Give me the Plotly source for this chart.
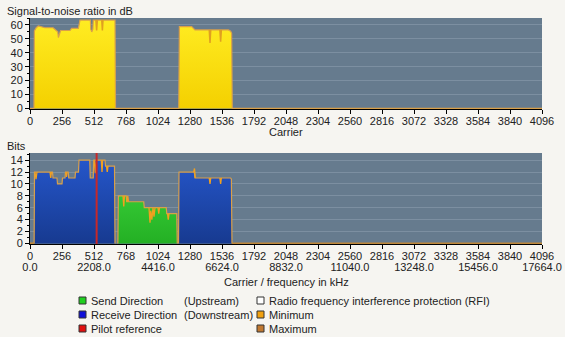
import plotly.graph_objects as go

# ---------------- data ----------------
# Signal-to-noise ratio (dB) per carrier (maximum envelope)
snr_carriers = [0, 32, 35, 50, 67, 100, 120, 185, 205, 222, 227, 235, 245, 320, 333, 387, 400,
                483, 486, 494, 503, 506, 680, 684,
                1190, 1195, 1293, 1320, 1587, 1605, 1613, 1618, 4096]
snr_max = [0, 0, 55.7, 58, 59.3, 58.6, 58, 58, 56.4, 55, 51, 54, 56, 56, 57.5, 57.5, 63.5,
           63.5, 57, 55, 57, 63.5, 63.5, 0,
           0, 58.8, 58.8, 56.4, 56.4, 55.5, 54, 0, 0]
# Minimum spikes (carrier, value) separated by gaps
snr_min_carriers = [527, 533, 539, None, 574, 579, 584, None, 1434, 1440, 1446, None, 1519, 1525, 1531]
snr_min = [63.5, 56, 63.5, None, 63.5, 56, 63.5, None, 56.4, 47, 56.4, None, 56.4, 48, 56.4]

# Bits per carrier - downstream block 1
ds1_carriers = [33, 36, 180, 184, 216, 220, 256, 260, 280, 284, 306, 310, 360, 364, 388, 392,
                478, 482, 506, 510, 600, 604, 676, 680]
ds1_bits = [0, 12, 12, 11, 11, 10, 10, 11, 11, 12, 12, 11, 11, 12, 12, 14,
            14, 11, 11, 14, 14, 13, 13, 0]
# Upstream block
us_carriers = [703, 707, 770, 774, 910, 914, 1090, 1094, 1174, 1178]
us_bits = [0, 8, 8, 7, 7, 6, 6, 5, 5, 0]
# Downstream block 2
ds2_carriers = [1188, 1192, 1314, 1320, 1605, 1611, 1616]
ds2_bits = [0, 12, 12, 11, 11, 10.8, 0]
# Idle carriers
idle_carriers = [0, 33, None, 1616, 4096]
idle_bits = [0, 0, None, 0, 0]
# Minimum / maximum spikes
bits_min_carriers = [40, 48, 56, None, 160, 166, 172, None, 286, 292, 298, None,
                     514, 522, 530, None, 570, 576, 582, None, 612, 618, 624, None,
                     744, 750, 756, None, 776, 782, 788, None, 952, 960, 966, 975, 984, 992, 1000, None,
                     1024, 1030, 1036, None, 1100, 1106, 1112, None,
                     1310, 1316, 1322, None, 1434, 1440, 1446, None, 1519, 1525, 1531]
bits_min = [12, 10.8, 12, None, 12, 11, 12, None, 12, 11.2, 12, None,
            14, 11.8, 14, None, 14, 12, 14, None, 13, 12, 13, None,
            8, 6.2, 8, None, 7, 8, 7, None, 6, 3.5, 5.5, 4, 6, 4.5, 6, None,
            6, 5, 6, None, 5, 4, 5, None,
            12, 12.6, 11, None, 11, 10, 11, None, 11, 10, 11]
pilot_carrier = [533]

carrier_ticks = list(range(0, 4097, 256))
freq_per_carrier = 4.3125  # kHz
freq_ticks = [c * freq_per_carrier for c in range(0, 4097, 512)]

legend_rows = [
    ("Send Direction", "(Upstream)", "#20D020"),
    ("Receive Direction", "(Downstream)", "#1010D8"),
    ("Pilot reference", "", "#E01010"),
]
legend_rows2 = [
    ("Radio frequency interference protection (RFI)", "#FFFFFF"),
    ("Minimum", "#F0A010"),
    ("Maximum", "#C07830"),
]

# ---------------- figure ----------------
W, H = 565, 337
PAGE = "#F6F5F1"
PLOT = "#667B8E"
GRID = "#7C8FA1"
EDGE = "#D9A04A"
MINC = "#F0A020"
FONT = "Liberation Sans"
TXT = "#222222"

def px(x):
    return x / W

def py(y):
    return 1 - y / H

fig = go.Figure()

# SNR area
fig.add_trace(go.Scatter(
    x=snr_carriers, y=snr_max, mode="lines", fill="tozeroy",
    line=dict(color=EDGE, width=1.2),
    fillgradient=dict(type="vertical", colorscale=[[0, "#F4D000"], [1, "#FFEC22"]], start=0, stop=63.5),
    xaxis="x", yaxis="y", hoverinfo="skip", showlegend=False))
fig.add_trace(go.Scatter(
    x=snr_min_carriers, y=snr_min, mode="lines", line=dict(color="#E0A020", width=1.5),
    xaxis="x", yaxis="y", hoverinfo="skip", showlegend=False))

# Bits areas
blue_grad = dict(type="vertical", colorscale=[[0, "#173A90"], [1, "#2556CA"]], start=0, stop=14)
green_grad = dict(type="vertical", colorscale=[[0, "#24B024"], [1, "#34C834"]], start=0, stop=8)
fig.add_trace(go.Scatter(x=ds1_carriers, y=ds1_bits, mode="lines", fill="tozeroy",
                         line=dict(color=EDGE, width=1.2), fillgradient=blue_grad,
                         xaxis="x2", yaxis="y2", hoverinfo="skip", showlegend=False))
fig.add_trace(go.Scatter(x=us_carriers, y=us_bits, mode="lines", fill="tozeroy",
                         line=dict(color=EDGE, width=1.2), fillgradient=green_grad,
                         xaxis="x2", yaxis="y2", hoverinfo="skip", showlegend=False))
fig.add_trace(go.Scatter(x=ds2_carriers, y=ds2_bits, mode="lines", fill="tozeroy",
                         line=dict(color=EDGE, width=1.2), fillgradient=blue_grad,
                         xaxis="x2", yaxis="y2", hoverinfo="skip", showlegend=False))
fig.add_trace(go.Scatter(x=idle_carriers, y=idle_bits, mode="lines",
                         line=dict(color="#C08838", width=2),
                         xaxis="x2", yaxis="y2", hoverinfo="skip", showlegend=False))
fig.add_trace(go.Scatter(x=bits_min_carriers, y=bits_min, mode="lines",
                         line=dict(color=MINC, width=1.3),
                         xaxis="x2", yaxis="y2", hoverinfo="skip", showlegend=False))
# frequency axis helper trace
fig.add_trace(go.Scatter(x=[freq_ticks[0], freq_ticks[-1]], y=[None, None], mode="lines",
                         xaxis="x3", yaxis="y2", hoverinfo="skip", showlegend=False))

# pilot line
for pc in pilot_carrier:
    fig.add_shape(type="line", xref="x2", yref="y2 domain", x0=pc, x1=pc, y0=0, y1=1,
                  line=dict(color="#C82828", width=2))

axis_common = dict(showline=True, linecolor="#000000", linewidth=1, ticks="outside",
                   ticklen=4, tickcolor="#000000", tickfont=dict(family=FONT, size=11, color=TXT),
                   zeroline=False, automargin=False, mirror=False)
xdom = [px(30), px(542)]

fig.update_layout(
    width=W, height=H, margin=dict(l=0, r=0, t=0, b=0),
    paper_bgcolor=PAGE, plot_bgcolor=PLOT, showlegend=False,
    xaxis=dict(domain=xdom, range=[0, 4096], tickvals=carrier_ticks, showgrid=False,
               anchor="y", ticklabelstandoff=-2, **axis_common),
    yaxis=dict(domain=[py(109), py(18)], range=[-0.4, 65], tickvals=list(range(0, 61, 10)),
               showgrid=True, gridcolor=GRID, gridwidth=1, anchor="x",
               minor=dict(dtick=5, ticks="outside", ticklen=2, tickcolor="#000000", showgrid=False),
               **axis_common),
    xaxis2=dict(domain=xdom, range=[0, 4096], tickvals=carrier_ticks, showgrid=False,
                anchor="y2", ticklabelstandoff=-2, **axis_common),
    yaxis2=dict(domain=[py(244), py(153)], range=[-0.1, 15.2], tickvals=list(range(0, 15, 2)),
                showgrid=True, gridcolor=GRID, gridwidth=1, anchor="x2",
                minor=dict(dtick=1, ticks="outside", ticklen=2, tickcolor="#000000", showgrid=False),
                **axis_common),
    xaxis3=dict(domain=xdom, range=[0, 4096 * freq_per_carrier], tickvals=freq_ticks,
                tickformat=".1f", overlaying="x2", anchor="free", position=py(259), side="bottom",
                showgrid=False, showline=False, ticks="", zeroline=False, automargin=False,
                tickfont=dict(family=FONT, size=11, color=TXT)),
)

ann_font = dict(family=FONT, size=11, color=TXT)
annotations = [
    dict(text="Signal-to-noise ratio in dB", x=px(5), y=py(10.5), xanchor="left", yanchor="middle"),
    dict(text="Carrier", x=px(286), y=py(131.5), xanchor="center", yanchor="middle"),
    dict(text="Bits", x=px(5), y=py(146), xanchor="left", yanchor="middle"),
    dict(text="Carrier / frequency in kHz", x=px(286), y=py(281.5), xanchor="center", yanchor="middle"),
]
shapes = []
for i, (name, direction, color) in enumerate(legend_rows):
    yc = 300.5 + 14 * i
    shapes.append(dict(type="rect", xref="paper", yref="paper", x0=px(79), x1=px(86),
                       y0=py(yc + 3.5), y1=py(yc - 3.5), fillcolor=color,
                       line=dict(color="#333333", width=1)))
    annotations.append(dict(text=name, x=px(89), y=py(yc), xanchor="left", yanchor="middle"))
    if direction:
        annotations.append(dict(text=direction, x=px(182), y=py(yc), xanchor="left", yanchor="middle"))
for i, (name, color) in enumerate(legend_rows2):
    yc = 300.5 + 14 * i
    shapes.append(dict(type="rect", xref="paper", yref="paper", x0=px(257), x1=px(264),
                       y0=py(yc + 3.5), y1=py(yc - 3.5), fillcolor=color,
                       line=dict(color="#333333", width=1)))
    annotations.append(dict(text=name, x=px(267), y=py(yc), xanchor="left", yanchor="middle"))

for a in annotations:
    a.update(xref="paper", yref="paper", showarrow=False, font=ann_font)
fig.update_layout(annotations=annotations)
for s in shapes:
    fig.add_shape(**s)

fig.write_html("out.html")
